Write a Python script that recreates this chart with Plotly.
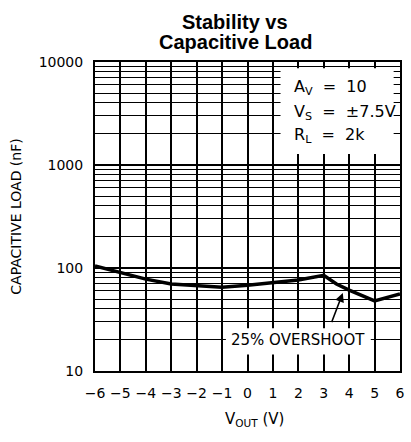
import plotly.graph_objects as go

# curve (V_OUT in volts, capacitive load in nF)
vout = [-6, -5, -4, -3, -2, -1, 0, 1, 2, 3, 3.5, 4, 5, 6]
cload = [105, 91, 78, 70, 67, 65, 68, 71.5, 76.5, 85, 70, 61, 48, 56]

x_ticks = [-6, -5, -4, -3, -2, -1, 0, 1, 2, 3, 4, 5, 6]
y_ticks = [10, 100, 1000, 10000]

title_lines = ["Stability vs", "Capacitive Load"]
conditions = ["A<sub>V</sub>  =  10", "V<sub>S</sub>  =  ±7.5V", "R<sub>L</sub>  =  2k"]
overshoot_label = "25% OVERSHOOT"

fig = go.Figure()
fig.add_trace(go.Scatter(x=vout, y=cload, mode="lines",
                         line=dict(color="black", width=3.5), showlegend=False,
                         hoverinfo="skip"))

# white boxes behind the labels (cover the grid, stay below the curve)
fig.add_shape(type="rect", xref="x", yref="y", x0=1.3, x1=5.75, y0=1280, y1=8700,
              fillcolor="white", line=dict(width=0), layer="between")
fig.add_shape(type="rect", xref="x", yref="y", x0=-0.85, x1=4.85, y0=14.5, y1=26,
              fillcolor="white", line=dict(width=0), layer="between")

# title as two separate lines (tighter spacing, like the datasheet)
for i, t in enumerate(title_lines):
    fig.add_annotation(x=0.46, y=[1.131, 1.064][i], xref="paper", yref="paper",
                       text="<b>%s</b>" % t, showarrow=False, yanchor="middle",
                       font=dict(family="Liberation Sans", size=20, color="black"))

for i, t in enumerate(conditions):
    fig.add_annotation(x=1.75, y=[3.75, 3.51, 3.29][i], xref="x", yref="y",
                       text=t, showarrow=False, xanchor="left",
                       font=dict(family="DejaVu Sans", size=16, color="black"))

fig.add_annotation(x=2.0, y=1.30, xref="x", yref="y", text=overshoot_label,
                   showarrow=False, font=dict(family="DejaVu Sans", size=15, color="black"))
fig.add_annotation(x=3.75, y=1.758, ax=3.29, ay=1.46, xref="x", yref="y",
                   axref="x", ayref="y", text="", showarrow=True,
                   arrowhead=2, arrowsize=1.2, arrowwidth=1.5, arrowcolor="black")

# x axis title, placed like the original (slightly right of centre)
fig.add_annotation(x=0.523, y=-0.158, xref="paper", yref="paper",
                   text="V<sub>OUT</sub> (V)", showarrow=False, yanchor="middle",
                   font=dict(family="DejaVu Sans", size=15, color="black"))

fig.update_layout(
    width=411, height=442,
    margin=dict(l=95, r=6, t=62, b=71),
    paper_bgcolor="white", plot_bgcolor="white",
    font=dict(family="DejaVu Sans", color="black"),
)
fig.update_xaxes(range=[-6, 6], tickvals=x_ticks, ticktext=[str(v).replace("-", "−") for v in x_ticks],
                 showgrid=True, gridcolor="black", gridwidth=1.5, zeroline=False,
                 showline=True, linecolor="black", linewidth=2, mirror=True,
                 ticks="", tickfont=dict(size=14), ticklabelstandoff=8)
fig.update_yaxes(type="log", range=[1, 4], tickvals=y_ticks, ticktext=[str(v) for v in y_ticks],
                 showgrid=True, gridcolor="black", gridwidth=1.5, zeroline=False,
                 showline=True, linecolor="black", linewidth=2, mirror=True,
                 ticks="", tickfont=dict(size=14), ticklabelstandoff=7,
                 minor=dict(dtick="D1", showgrid=True, gridcolor="black", gridwidth=1, ticks=""),
                 title=dict(text="CAPACITIVE LOAD (nF)", font=dict(size=14), standoff=14))

fig.write_html("out.html", config={"displayModeBar": False},
               post_script="document.body.style.margin='0';")
